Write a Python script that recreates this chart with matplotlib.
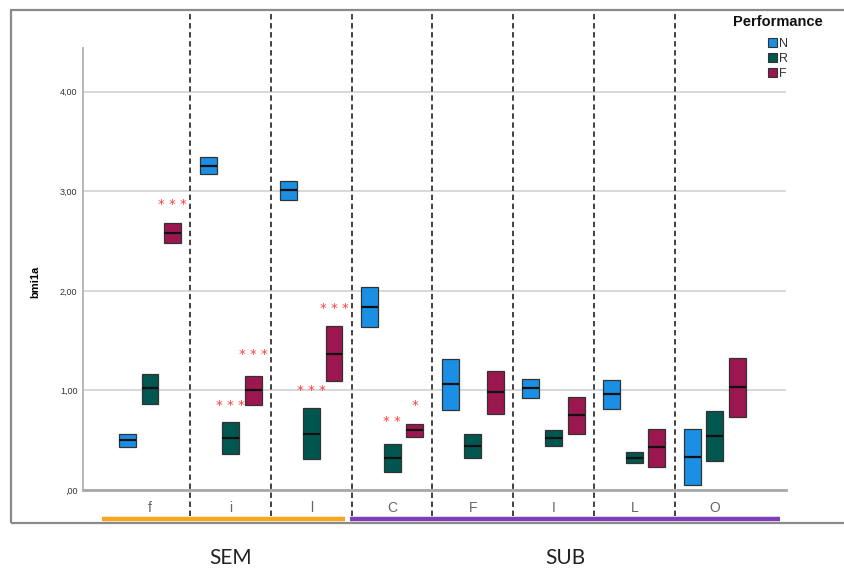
import matplotlib
matplotlib.use("Agg")
import matplotlib.pyplot as plt
from matplotlib.patches import Patch, Rectangle
from matplotlib.transforms import blended_transform_factory
import numpy as np

# ---- data ----
categories = ['f', 'i', 'l', 'C', 'F', 'I', 'L', 'O']
group_names = ['SEM', 'SUB']
group_members = [['f', 'i', 'l'], ['C', 'F', 'I', 'L', 'O']]
series = ['N', 'R', 'F']

N_low = [0.43, 3.17, 2.91, 1.64, 0.80, 0.92, 0.81, 0.05]
N_med = [0.50, 3.25, 3.01, 1.84, 1.06, 1.02, 0.96, 0.33]
N_high = [0.56, 3.35, 3.10, 2.04, 1.32, 1.12, 1.11, 0.61]

R_low = [0.86, 0.36, 0.31, 0.18, 0.32, 0.44, 0.27, 0.29]
R_med = [1.02, 0.52, 0.56, 0.32, 0.44, 0.52, 0.32, 0.54]
R_high = [1.17, 0.68, 0.82, 0.46, 0.56, 0.60, 0.38, 0.79]

F_low = [2.48, 0.85, 1.09, 0.53, 0.76, 0.56, 0.23, 0.73]
F_med = [2.58, 1.00, 1.37, 0.60, 0.98, 0.75, 0.43, 1.03]
F_high = [2.68, 1.15, 1.65, 0.66, 1.20, 0.93, 0.61, 1.33]

sig_cat = ['f', 'i', 'i', 'l', 'l', 'C', 'C']
sig_series = ['F', 'R', 'F', 'R', 'F', 'R', 'F']
sig_label = ['***', '***', '***', '***', '***', '**', '*']
sig_y = [2.89, 0.87, 1.38, 1.02, 1.84, 0.71, 0.87]

yticks = [0, 1, 2, 3, 4]
ytick_labels = [',00', '1,00', '2,00', '3,00', '4,00']

# ---- style ----
colors = {'N': '#1a8fe3', 'R': '#00574f', 'F': '#9c1750'}
offsets = {'N': -0.28, 'R': 0.0, 'F': 0.28}
box_w = 0.21
group_colors = ['#f5a623', '#7d3fb8']

plt.rcParams['font.family'] = ['Liberation Sans', 'DejaVu Sans']

fig = plt.figure(figsize=(8.44, 5.71), dpi=100)
fig.patch.set_facecolor('white')
ax = fig.add_axes([83/844, 1 - 490/571, (786-83)/844, (490-48)/571])

xpos = np.arange(len(categories))
data = {'N': (N_low, N_med, N_high), 'R': (R_low, R_med, R_high), 'F': (F_low, F_med, F_high)}

for s in series:
    lo, med, hi = (np.array(a) for a in data[s])
    x = xpos + offsets[s]
    ax.bar(x, hi - lo, bottom=lo, width=box_w, color=colors[s],
           edgecolor='#333333', linewidth=0.9, zorder=3)
    ax.hlines(med, x - box_w/2, x + box_w/2, color='#111111', linewidth=1.6, zorder=4)

# significance stars
cat_index = {c: i for i, c in enumerate(categories)}
for c, s, lab, yv in zip(sig_cat, sig_series, sig_label, sig_y):
    ax.text(cat_index[c] + offsets[s], yv - 0.02, ' '.join(lab), color='#ff3b3b',
            fontsize=9.5, ha='center', va='center', family='DejaVu Sans', zorder=5)

ax.set_xlim(-0.83, 7.88)
ax.set_ylim(0, 4.44)
ax.set_yticks(yticks)
ax.set_yticklabels(ytick_labels)
ax.set_xticks(xpos)
ax.set_xticklabels(categories)
ax.tick_params(axis='y', length=0, pad=4, labelsize=6.5, labelcolor='#333333')
ax.tick_params(axis='x', length=0, pad=8, labelsize=10, labelcolor='#666666')
ax.yaxis.grid(True, color='#d8d8d8', linewidth=1.4)
ax.set_axisbelow(True)
for sp in ['top', 'right']:
    ax.spines[sp].set_visible(False)
ax.spines['left'].set_color('#b0b0b0')
ax.spines['left'].set_linewidth(1.3)
ax.spines['bottom'].set_color('#a8a8a8')
ax.spines['bottom'].set_linewidth(2.0)
ax.set_ylabel('bmi1a', fontsize=8, fontweight='bold')
ax.yaxis.set_label_coords(-0.061, 0.47)

# dashed dividers
trans = blended_transform_factory(ax.transData, ax.transAxes)
for i in range(len(categories) - 1):
    ax.plot([i + 0.5, i + 0.5], [-0.058, 1.08], transform=trans, color='#333333',
            linewidth=1.3, linestyle=(0, (3, 2)), clip_on=False, zorder=2)

# group underlines and labels
bot_y = (571 - 519) / 571
lab_y = (571 - 558) / 571
ftrans = blended_transform_factory(ax.transData, fig.transFigure)
for gi, (gname, members) in enumerate(zip(group_names, group_members)):
    idx = [cat_index[m] for m in members]
    if gi == 0:
        x0, x1 = idx[0] - 0.6, idx[-1] + 0.42
        xt = np.mean(idx)
    else:
        x0, x1 = idx[0] - 0.52, idx[-1] + 0.81
        xt = (x0 + x1) / 2
    ax.plot([x0, x1], [bot_y, bot_y], transform=ftrans,
            color=group_colors[gi], linewidth=3.2, solid_capstyle='butt', clip_on=False)
    ax.text(xt, lab_y, gname, transform=ftrans,
            ha='center', va='center', fontsize=15, family=['Lato', 'DejaVu Sans'], color='#222222')

# outer frame
fig.patches.append(Rectangle((11/844, 1 - 523/571), 1.0, (523-10)/571, transform=fig.transFigure,
                             fill=False, edgecolor='#8a8a8a', linewidth=1.6, zorder=0))

# legend
fig.text(778/844, 1 - 22/571, 'Performance', ha='center', va='center',
         fontsize=10.5, fontweight='bold', color='#111111')
handles = [Patch(facecolor=colors[s], edgecolor='#333333', linewidth=0.8, label=s) for s in series]
leg = fig.legend(handles=handles, loc='upper left',
                 bbox_to_anchor=(768/844, 1 - 38/571), frameon=False, fontsize=9,
                 labelcolor='#333333',
                 handlelength=0.75, handleheight=0.75, handletextpad=0.15,
                 labelspacing=0.25, borderpad=0, borderaxespad=0)

fig.savefig('out.png', dpi=100)
